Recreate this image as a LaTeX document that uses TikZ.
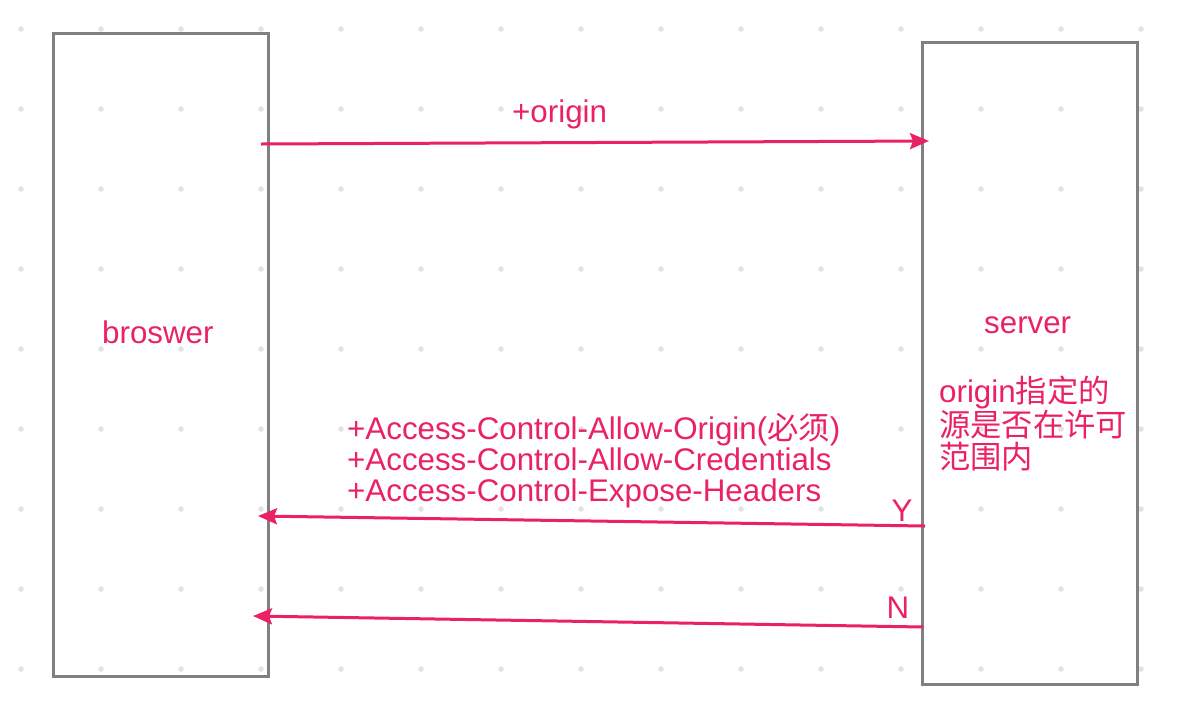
\documentclass[tikz,border=0pt]{standalone}
\usepackage{fontspec}
\setmainfont{Liberation Sans}
\newfontfamily\cjk{Noto Sans CJK SC}
\usetikzlibrary{arrows.meta, positioning}
\definecolor{Rose}{RGB}{234,33,99}
\definecolor{Gris}{RGB}{128,128,128}
\definecolor{Point}{RGB}{226,226,226}
\tikzset{boite/.style={rectangle, draw=Gris, line width=3pt,
  minimum width=215pt, inner sep=0pt}}
\tikzset{txt/.style={text=Rose, font=\fontsize{31.3}{31}\selectfont,
  inner sep=0pt, anchor=base west, align=left}}
\tikzset{fl/.style={-{Stealth[length=19pt, width=16pt, inset=3pt]}, draw=Rose, line width=3pt}}

\begin{document}
\begin{tikzpicture}[x=1pt, y=-1pt]
\useasboundingbox (0,0) rectangle (1194,716);
% grille de points
\foreach \i in {0,...,14} \foreach \j in {0,...,8}
  \fill[Point] (21+80*\i, 29+80*\j) circle (2.8);
\node[boite, minimum height=643pt] (nav) at (160.5,354.5) {};
\node[boite, minimum height=642pt] (serv) at (1029.5,363) {};
\node[txt] (tnav) at (102,343) {broswer};
\node[txt] (tserv) at (984,333) {server};
% ancre base = derniere ligne
\node[txt, font=\fontsize{31.3}{31.5}\selectfont] (test) at (939,468)
  {origin{\cjk 指定的}\\{\cjk 源是否在许可}\\{\cjk 范围内}};
\node[txt] (torig) at (512,122) {+origin};
\node[txt] (tent) at (347,501) {+Access-Control-Allow-Origin({\cjk 必须})\\
  +Access-Control-Allow-Credentials\\+Access-Control-Expose-Headers};
\node[txt, anchor=base] (toui) at (902,521) {Y};
\node[txt, anchor=base] (tnon) at (898,618) {N};
% fleches
\coordinate (reqA) at (261,144); \coordinate (reqB) at (929,141);
\coordinate (ouiA) at (925,526); \coordinate (ouiB) at (258,516);
\coordinate (nonA) at (923,627); \coordinate (nonB) at (253,616);
\draw[fl] (reqA)--(reqB);
\draw[fl] (ouiA)--(ouiB);
\draw[fl] (nonA)--(nonB);
\end{tikzpicture}
\end{document}
